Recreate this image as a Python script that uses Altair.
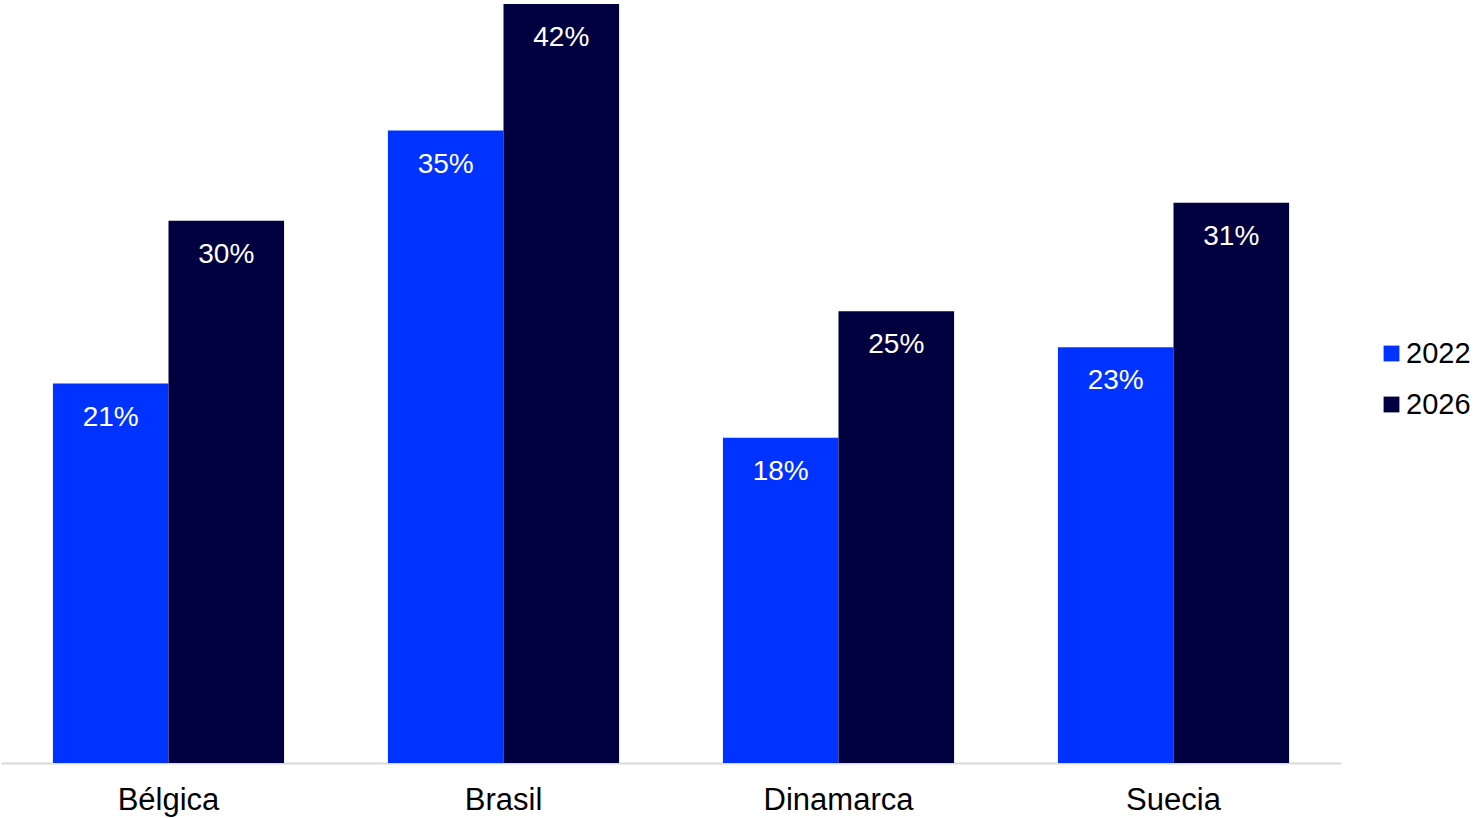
import altair as alt
import pandas as pd

countries = ["Bélgica", "Brasil", "Dinamarca", "Suecia"]
values_2022 = [21, 35, 18, 23]
values_2026 = [30, 42, 25, 31]
years = ["2022", "2026"]
colors = ["#0033FF", "#000040"]

rows = []
for c, a, b in zip(countries, values_2022, values_2026):
    rows.append({"country": c, "year": "2022", "value": a, "label": f"{a}%"})
    rows.append({"country": c, "year": "2026", "value": b, "label": f"{b}%"})
df = pd.DataFrame(rows)

font = "Liberation Sans"

x = alt.X("country:N", sort=countries, title=None,
          scale=alt.Scale(paddingInner=0.31, paddingOuter=0.155),
          axis=alt.Axis(labelAngle=0, labelFontSize=31, labelColor="#000000",
                        labelFont=font, ticks=False, domainColor="#d9d9d9",
                        domainWidth=2, labelPadding=22))
y = alt.Y("value:Q", scale=alt.Scale(domain=[0, 42], nice=False), axis=None)

base = alt.Chart(df).encode(x=x, xOffset=alt.XOffset("year:N", sort=years), y=y)

bars = base.mark_bar(strokeWidth=0).encode(
    color=alt.Color("year:N", sort=years,
                    scale=alt.Scale(domain=years, range=colors),
                    legend=alt.Legend(title=None, orient="none", legendX=1376, legendY=335,
                                      padding=0,
                                      symbolType="square", symbolSize=250,
                                      symbolStrokeWidth=0, labelFontSize=29,
                                      labelFont=font, labelColor="#000000",
                                      rowPadding=21, labelOffset=0, symbolOffset=0))
)

labels = base.mark_text(baseline="middle", dy=34, color="white", fontSize=28, font=font).encode(
    text="label:N"
)

chart = (bars + labels).properties(
    width=1340, height=759,
    padding={"left": 1, "top": 4, "right": 137, "bottom": 55},
    autosize=alt.AutoSizeParams(type="none"),
    background="white"
).configure_view(stroke=None)

chart.save("out.html", embed_options={"renderer": "svg", "actions": False})
